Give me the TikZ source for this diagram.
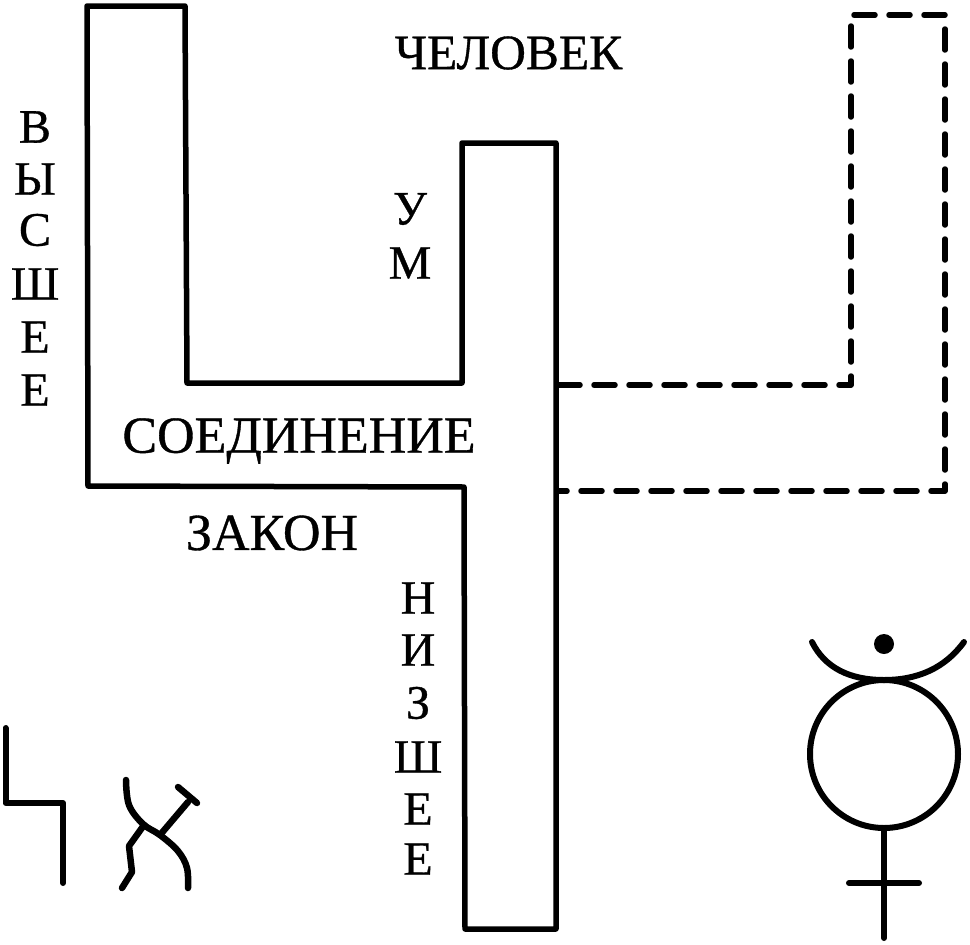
\documentclass[tikz,border=0pt]{standalone}
\usepackage{fontspec}
\setmainfont{Liberation Serif}
\newfontfamily\lblfont[FakeBold=0.7]{Liberation Serif}
\begin{document}
\begin{tikzpicture}[x=1pt,y=-1pt,
 lbl/.style={font=\lblfont\fontsize{52}{52}\selectfont,inner sep=0pt,text=black},
 toplbl/.style={font=\lblfont\fontsize{49.5}{50}\selectfont,inner sep=0pt,text=black},
 vlbl/.style={font=\lblfont\fontsize{48}{48}\selectfont,inner sep=0pt,text=black},
 solidline/.style={line width=5.5pt,line join=round,line cap=round,black},
 dashline/.style={line width=5.5pt,dash pattern=on 21pt off 14pt,line cap=round,line join=round,black},
 glyph/.style={line width=6pt,black,line join=round,line cap=round},
 xglyph/.style={line width=6.5pt,black,line join=round,line cap=round}]
\useasboundingbox (0,0) rectangle (970,945);
\draw[solidline] (87,6) -- (185,6) -- (187,383) -- (462,383) -- (462,143) -- (556,143) -- (556,929) -- (465,929) -- (464,487) -- (88,486) -- cycle;
\coordinate (da) at (559,385);
\coordinate (db) at (559,491);
\draw[dashline] (da) -- (851,385) -- (851,15) -- (945,15) -- (945,491) -- (db);
\node[toplbl] (t1) at (508.5,53) {ЧЕЛОВЕК};
\node[lbl] (t2) at (299,441) {СОЕДИНЕНИЕ};
\node[lbl] (t3) at (272,533) {ЗАКОН};
\foreach \c/\y in {В/127,Ы/179,С/230,Ш/284,Е/337,Е/390} \node[vlbl] at (35,\y) {\c};
\foreach \c/\y in {У/209,М/263} \node[vlbl] at (410,\y) {\c};
\foreach \c/\y in {Н/598,И/650,З/703,Ш/757,Е/809,Е/859} \node[vlbl] at (418,\y) {\c};
\draw[glyph] (5.5,728) -- (5.5,803) -- (63,803) -- (63,883);
\draw[xglyph] plot[smooth,tension=0.6] coordinates {(126,780) (129,805) (143,824) (160,835) (178,851) (187,868) (188,888)};
\draw[xglyph] (178,787) -- (197,803);
\draw[xglyph] (188,802) -- (160,835);
\draw[xglyph] (144,825) -- (129,846) -- (132,872) -- (122,888);
\draw[glyph] (812,642) .. controls (825,668) and (850,680) .. (884,680) .. controls (918,680) and (945,668) .. (964,642);
\fill[black] (884,644) circle (10);
\draw[glyph] (884,754) circle (74);
\draw[glyph] (884,828) -- (884,938);
\draw[glyph] (849,883) -- (919,883);
\end{tikzpicture}
\end{document}
